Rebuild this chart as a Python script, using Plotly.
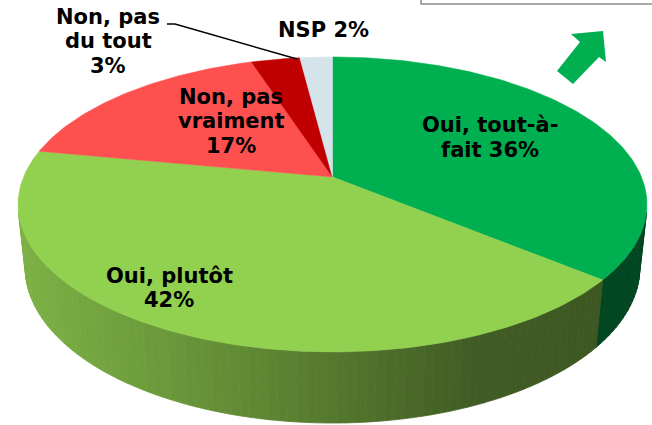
import numpy as np
import plotly.graph_objects as go

# ---- data ----
categories = ["Oui, tout-à-fait", "Oui, plutôt", "Non, pas vraiment", "Non, pas du tout", "NSP"]
values = [36, 42, 17, 3, 2]
label_lines = [["Oui, tout-à-", "fait 36%"], ["Oui, plutôt", "42%"],
               ["Non, pas", "vraiment", "17%"], ["Non, pas", "du tout", "3%"], ["NSP 2%"]]

# ---- style ----
top_colors = ["#00B050", "#92D050", "#FF5050", "#C00000", "#D5E3EA"]
label_pos = [(490, 137.5), (169, 288), (231, 121), (108, 41), (323, 29.5)]
LINE_SP = 24.5
FONT = "DejaVu Sans"
FSIZE = 21

# ---- 3D pie projection (pinhole camera) ----
SIN_A = 0.4608
COS_A = np.sqrt(1 - SIN_A ** 2)
DIST = 4.77
FOC = 1474.0
THICK = 0.231
CX, CY0 = 332.5, 177.0
L_CAM = DIST * COS_A


def project(theta_deg, Y=0.0):
    th = np.radians(theta_deg)
    X = np.sin(th)
    Z = np.cos(th)
    depth = DIST + Z * COS_A - Y * SIN_A
    up = Z * SIN_A + Y * COS_A
    return CX + FOC * X / depth, CY0 - FOC * up / depth


def rgb_scale(hexcol, f):
    h = hexcol.lstrip("#")
    r, g, b = (int(h[i:i + 2], 16) for i in (0, 2, 4))
    return "rgb(%d,%d,%d)" % (round(r * f), round(g * f), round(b * f))


def side_factor(i, x):
    if i == 0:
        return 0.40
    xs = [20, 180, 330, 480, 600]
    fs = [0.85, 0.72, 0.58, 0.44, 0.42]
    return float(np.interp(x, xs, fs))


total = float(sum(values))
bounds = [0.0]
for v in values:
    bounds.append(bounds[-1] + v / total * 360.0)

fig = go.Figure()

# visible side wall
vis0 = np.degrees(np.arccos(-1.0 / L_CAM))
vis1 = 360.0 - vis0
for i in range(len(values)):
    a0 = max(bounds[i], vis0)
    a1 = min(bounds[i + 1], vis1)
    if a1 <= a0:
        continue
    n = max(2, int((a1 - a0) / 1.5))
    edges = np.linspace(a0, a1, n + 1)
    for k in range(n):
        t = np.linspace(edges[k], edges[k + 1], 4)
        xt, yt = project(t, 0.0)
        xb, yb = project(t[::-1], -THICK)
        xs = np.concatenate([xt, xb, xt[:1]])
        ys = np.concatenate([yt, yb, yt[:1]])
        col = rgb_scale(top_colors[i], side_factor(i, float(np.mean(xt))))
        fig.add_trace(go.Scatter(x=xs, y=ys, mode="lines", fill="toself",
                                 fillcolor=col, line=dict(color=col, width=0.8),
                                 hoverinfo="skip", showlegend=False))

# top face wedges
for i in range(len(values)):
    t = np.linspace(bounds[i], bounds[i + 1], max(3, int(values[i] * 4)))
    xa, ya = project(t, 0.0)
    xs = np.concatenate([[CX], xa, [CX]])
    ys = np.concatenate([[CY0], ya, [CY0]])
    fig.add_trace(go.Scatter(x=xs, y=ys, mode="lines", fill="toself",
                             fillcolor=top_colors[i],
                             line=dict(color=top_colors[i], width=0.5),
                             hoverinfo="skip", showlegend=False, name=categories[i]))

# labels (one annotation per line for Excel-like line spacing)
for lines, (lx, ly) in zip(label_lines, label_pos):
    n = len(lines)
    for j, txt in enumerate(lines):
        fig.add_annotation(x=lx, y=ly + (j - (n - 1) / 2.0) * LINE_SP,
                           text="<b>%s</b>" % txt, showarrow=False,
                           xanchor="center", yanchor="middle", align="center",
                           font=dict(family=FONT, size=FSIZE, color="black"))

shapes = [
    # leader line for "Non, pas du tout"
    dict(type="path", path="M167,24 L175,24 L297,59", xref="x", yref="y",
         line=dict(color="black", width=1.5)),
    # green arrow
    dict(type="path", path="M603,31 L606,62 L599,57 L573,84 L557,71 L580,42 L571,34 Z",
         xref="x", yref="y", fillcolor="#00B050", line=dict(width=0)),
    # cut-off box at top right
    dict(type="rect", x0=421, x1=720, y0=-30, y1=4, xref="x", yref="y",
         line=dict(color="#8C8C8C", width=1.5), fillcolor="rgba(0,0,0,0)"),
]

fig.update_layout(
    width=652, height=425,
    margin=dict(l=0, r=0, t=0, b=0),
    paper_bgcolor="white", plot_bgcolor="white",
    showlegend=False,
    xaxis=dict(range=[0, 652], visible=False, fixedrange=True),
    yaxis=dict(range=[425, 0], visible=False, fixedrange=True),
    shapes=shapes,
)

fig.write_html("out.html", config={"displayModeBar": False},
               post_script="document.body.style.margin='0';document.body.style.overflow='hidden';")
